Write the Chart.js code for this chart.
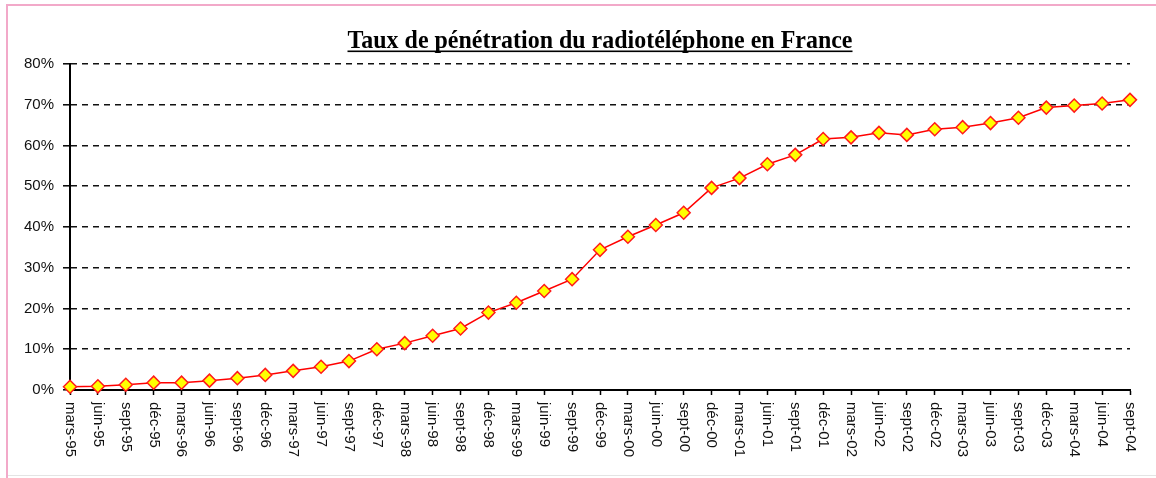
<!DOCTYPE html>
<html>
<head>
<meta charset="utf-8">
<script src="https://cdn.jsdelivr.net/npm/chart.js@4/dist/chart.umd.min.js"></script>
<style>
  html, body { margin: 0; padding: 0; background: #fff; }
  #wrap { position: relative; width: 1156px; height: 478px; }
</style>
</head>
<body>
<div id="wrap"><canvas id="penetrationChart" width="1156" height="478"></canvas></div>
<script>
// Taux de pénétration (%), fin de chaque trimestre
const chartTitle = 'Taux de pénétration du radiotéléphone en France';

const quarters = [
  'mars-95', 'juin-95', 'sept-95', 'déc-95',
  'mars-96', 'juin-96', 'sept-96', 'déc-96',
  'mars-97', 'juin-97', 'sept-97', 'déc-97',
  'mars-98', 'juin-98', 'sept-98', 'déc-98',
  'mars-99', 'juin-99', 'sept-99', 'déc-99',
  'mars-00', 'juin-00', 'sept-00', 'déc-00',
  'mars-01', 'juin-01', 'sept-01', 'déc-01',
  'mars-02', 'juin-02', 'sept-02', 'déc-02',
  'mars-03', 'juin-03', 'sept-03', 'déc-03',
  'mars-04', 'juin-04', 'sept-04'
];

const penetration = [
  0.8, 0.9, 1.3, 1.8,
  1.8, 2.3, 2.9, 3.7,
  4.7, 5.7, 7.1, 10.0,
  11.5, 13.3, 15.1, 19.0,
  21.4, 24.3, 27.2, 34.4,
  37.6, 40.5, 43.5, 49.6,
  52.0, 55.4, 57.7, 61.6,
  62.0, 63.1, 62.6, 64.0,
  64.5, 65.5, 66.8, 69.3,
  69.8, 70.3, 71.2
];

const yMin = 0;
const yMax = 80;
const yStep = 10;

// frame + title (condensed bold serif, underlined)
const decorPlugin = {
  id: 'decor',
  beforeDraw(chart) {
    const ctx = chart.ctx;
    ctx.save();
    ctx.fillStyle = '#fff';
    ctx.fillRect(0, 0, chart.width, chart.height);
    ctx.fillStyle = '#f2a9c9';
    ctx.fillRect(6, 4, chart.width - 6, 2);
    ctx.fillRect(6, 4, 2, chart.height - 4);
    ctx.fillStyle = '#e4e4e4';
    ctx.fillRect(8, 475, chart.width - 8, 1);
    ctx.restore();
  },
  afterDraw(chart) {
    const ctx = chart.ctx;
    ctx.save();
    ctx.font = 'bold 25px "Liberation Serif", "Times New Roman", serif';
    ctx.fillStyle = '#000';
    ctx.textBaseline = 'alphabetic';
    ctx.textAlign = 'center';
    const w = ctx.measureText(chartTitle).width;
    const target = 505;
    const sx = target / w;
    const cx = 600;
    ctx.translate(cx, 48);
    ctx.scale(sx, 1);
    ctx.fillText(chartTitle, 0, 0);
    ctx.restore();
    ctx.save();
    ctx.fillStyle = '#000';
    const uw = w * sx;
    ctx.fillRect(cx - uw / 2, 50.5, uw, 1.6);
    ctx.restore();

    // category labels, rotated clockwise like the original
    const xs = chart.scales.x;
    ctx.save();
    ctx.font = '15px "Liberation Sans", Arial, sans-serif';
    ctx.fillStyle = '#111';
    ctx.textAlign = 'left';
    ctx.textBaseline = 'middle';
    xs.ticks.forEach((t, i) => {
      const x = xs.getPixelForTick(i);
      ctx.save();
      ctx.translate(x, xs.top + 12);
      ctx.rotate(Math.PI / 2);
      ctx.fillText(xs.getLabelForValue(t.value), 0, 0);
      ctx.restore();
    });
    ctx.restore();
  }
};

const ctx = document.getElementById('penetrationChart').getContext('2d');
new Chart(ctx, {
  type: 'line',
  data: {
    labels: quarters,
    datasets: [{
      label: chartTitle,
      data: penetration,
      borderColor: '#ff0000',
      borderWidth: 1.5,
      backgroundColor: '#ffff00',
      pointStyle: 'rectRot',
      pointRadius: 6.5,
      pointBackgroundColor: '#ffff00',
      pointBorderColor: '#ff1a1a',
      pointBorderWidth: 1.5,
      tension: 0,
      fill: false,
      clip: false
    }]
  },
  options: {
    responsive: false,
    animation: false,
    devicePixelRatio: 1,
    layout: { padding: { top: 64, right: 26, bottom: 0, left: 0 } },
    plugins: {
      legend: { display: false },
      tooltip: { enabled: false },
      title: { display: false }
    },
    scales: {
      x: {
        type: 'category',
        offset: false,
        afterFit: s => { s.height = 88; },
        grid: {
          display: true,
          drawOnChartArea: false,
          drawTicks: true,
          tickLength: 5,
          tickColor: '#000',
          tickWidth: 1.5
        },
        border: { display: true, color: '#000', width: 2 },
        ticks: { display: false, autoSkip: false }
      },
      y: {
        min: yMin,
        max: yMax,
        afterFit: s => { s.width = 70; },
        grid: {
          color: '#111',
          lineWidth: 1.6,
          drawTicks: true,
          tickLength: 7,
          tickColor: '#000',
          tickWidth: 1.5
        },
        border: { display: true, color: '#000', width: 2, dash: [6, 5] },
        ticks: {
          stepSize: yStep,
          padding: 9,
          color: '#111',
          font: { family: '"Liberation Sans", Arial, sans-serif', size: 15 },
          callback: v => v + '%'
        }
      }
    }
  },
  plugins: [decorPlugin]
});
</script>
</body>
</html>
